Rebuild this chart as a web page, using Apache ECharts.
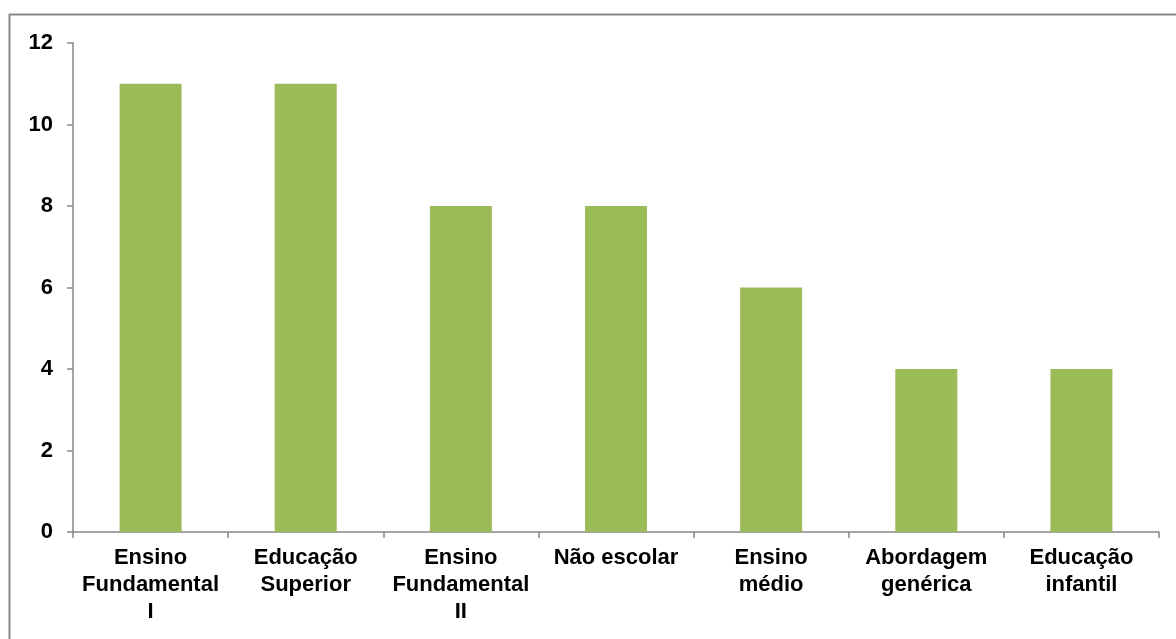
<!DOCTYPE html>
<html>
<head>
<meta charset="utf-8">
<script src="https://cdn.jsdelivr.net/npm/echarts@6/dist/echarts.min.js"></script>
<style>
html,body{margin:0;padding:0;background:#fff;}
#chart{width:1176px;height:639px;}
</style>
</head>
<body>
<div id="chart"></div>
<script>
const categories = ['Ensino\nFundamental\nI', 'Educação\nSuperior', 'Ensino\nFundamental\nII', 'Não escolar', 'Ensino\nmédio', 'Abordagem\ngenérica', 'Educação\ninfantil'];
const values = [11, 11, 8, 8, 6, 4, 4];
const yTicks = [0, 2, 4, 6, 8, 10, 12];

const chart = echarts.init(document.getElementById('chart'));
const axisColor = '#878787';
chart.setOption({
  animation: false,
  backgroundColor: '#fff',
  graphic: [
    { type: 'line', shape: { x1: 9.5, y1: 14, x2: 9.5, y2: 700 }, style: { stroke: axisColor, lineWidth: 2 } },
    { type: 'line', shape: { x1: 9, y1: 14.5, x2: 1200, y2: 14.5 }, style: { stroke: axisColor, lineWidth: 2 } }
  ],
  grid: { left: 73, right: 17, top: 43, bottom: 107, containLabel: false },
  xAxis: {
    type: 'category',
    data: categories,
    axisLine: { lineStyle: { color: axisColor, width: 1.5 } },
    axisTick: { show: true, alignWithLabel: false, length: 6, lineStyle: { color: axisColor, width: 1.5 } },
    axisLabel: {
      interval: 0,
      color: '#000',
      fontFamily: 'Liberation Sans, Arial, sans-serif',
      fontWeight: 'bold',
      fontSize: 22,
      lineHeight: 27,
      margin: 12
    },
    splitLine: { show: false }
  },
  yAxis: {
    type: 'value',
    min: yTicks[0],
    max: yTicks[yTicks.length - 1],
    interval: 2,
    axisLine: { show: true, lineStyle: { color: axisColor, width: 1.5 } },
    axisTick: { show: true, length: 6, lineStyle: { color: axisColor, width: 1.5 } },
    axisLabel: {
      color: '#000',
      fontFamily: 'Liberation Sans, Arial, sans-serif',
      fontWeight: 'bold',
      fontSize: 22,
      margin: 20
    },
    splitLine: { show: false }
  },
  series: [{
    type: 'bar',
    data: values,
    barWidth: 62,
    itemStyle: { color: '#9BBB59' }
  }]
});
</script>
</body>
</html>
